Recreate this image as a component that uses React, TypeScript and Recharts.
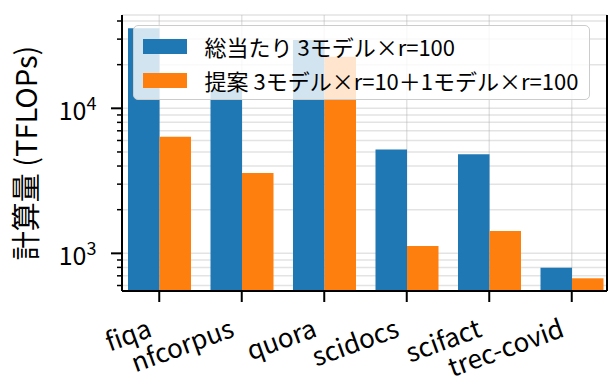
import { BarChart, Bar, XAxis, YAxis, CartesianGrid } from "recharts";

const categories = ["fiqa", "nfcorpus", "quora", "scidocs", "scifact", "trec-covid"];
const seriesNames = ["総当たり 3モデル×r=100", "提案 3モデル×r=10＋1モデル×r=100"];
const bruteForce = [35600, 13400, 29600, 5210, 4820, 796];
const proposed = [6370, 3580, 22700, 1122, 1426, 673];
const yTicks = [
  600, 700, 800, 900, 1000, 2000, 3000, 4000, 5000, 6000, 7000, 8000, 9000,
  10000, 20000, 30000, 40000,
];
const yMajorTicks = [1000, 10000];
const yDomain = [550, 44000];
const yLabel = "計算量 (TFLOPs)";

const colors = ["#1f77b4", "#ff7f0e"];
const font = "'Noto Sans CJK JP', sans-serif";

const chartData = categories.map((name, i) => ({
  name,
  bruteForce: bruteForce[i],
  proposed: proposed[i],
}));

function YTick({ x, y, payload }: any) {
  const v = payload.value;
  const major = yMajorTicks.includes(v);
  const exp = Math.round(Math.log10(v));
  return (
    <g>
      <line x1={x - (major ? 11 : 5)} x2={x} y1={y} y2={y} stroke="#000" strokeWidth={major ? 2 : 1.5} />
      {major && (
        <>
          <text x={x - 35.5} y={y + 11.5} textAnchor="end" fontSize={25} fontFamily={font} fill="#000">
            10
          </text>
          <text x={x - 35.5} y={y + 2} textAnchor="start" fontSize={18} fontFamily={font} fill="#000">
            {exp}
          </text>
        </>
      )}
    </g>
  );
}

function XTick({ x, y, payload }: any) {
  const px = x - 6;
  const py = y + 45;
  return (
    <g>
      <line x1={x} x2={x} y1={y} y2={y + 11} stroke="#000" strokeWidth={2} />
      <text
        x={px}
        y={py}
        textAnchor="end"
        fontSize={26}
        fontFamily={font}
        fill="#000"
        transform={`rotate(-20, ${px}, ${py})`}
      >
        {payload.value}
      </text>
    </g>
  );
}

export default function App() {
  return (
    <div style={{ position: "absolute", left: 0, top: 0, width: 608, height: 379, background: "#fff" }}>
      <BarChart
        width={608}
        height={379}
        data={chartData}
        margin={{ top: 15, right: 0, bottom: 0, left: 0 }}
        barGap={0}
        barSize={31.5}
      >
        <XAxis
          xAxisId="bottom"
          dataKey="name"
          height={88}
          padding={{ left: -4, right: -6 }}
          tickSize={0}
          tickMargin={0}
          tickLine={false}
          axisLine={{ stroke: "#000", strokeWidth: 2 }}
          tick={<XTick />}
          interval={0}
        />
        <XAxis
          xAxisId="top"
          orientation="top"
          dataKey="name"
          height={0}
          tick={false}
          tickLine={false}
          axisLine={{ stroke: "#000", strokeWidth: 2 }}
        />
        <YAxis
          yAxisId="left"
          scale="log"
          domain={yDomain}
          allowDataOverflow
          ticks={yTicks}
          interval={0}
          width={122}
          tickSize={0}
          tickMargin={0}
          tickLine={false}
          axisLine={{ stroke: "#000", strokeWidth: 2 }}
          tick={<YTick />}
        />
        <YAxis
          yAxisId="right"
          orientation="right"
          width={1}
          tick={false}
          tickLine={false}
          axisLine={{ stroke: "#000", strokeWidth: 2 }}
        />
        <Bar xAxisId="bottom" yAxisId="left" dataKey="bruteForce" fill={colors[0]} isAnimationActive={false} />
        <Bar xAxisId="bottom" yAxisId="left" dataKey="proposed" fill={colors[1]} isAnimationActive={false} />
        <CartesianGrid
          xAxisId="bottom"
          yAxisId="left"
          stroke="#b0b0b0"
          strokeOpacity={0.35}
          strokeWidth={1.5}
        />
        <text
          x={37}
          y={153}
          textAnchor="middle"
          fontSize={29}
          fontFamily={font}
          fill="#000"
          transform="rotate(-90, 37, 153)"
        >
          {yLabel}
        </text>
      </BarChart>
      <div
        style={{
          position: "absolute",
          left: 133,
          top: 25,
          width: 457,
          height: 75,
          boxSizing: "border-box",
          background: "rgba(255,255,255,0.8)",
          border: "1.5px solid #cccccc",
          borderRadius: 5,
          fontFamily: font,
          fontSize: 22,
          color: "#000",
        }}
      >
        {seriesNames.map((s, i) => (
          <div key={s} style={{ position: "absolute", left: 0, top: 5 + i * 34, height: 30, display: "flex", alignItems: "center" }}>
            <div style={{ marginLeft: 8.5, width: 44, height: 15, background: colors[i] }} />
            <span style={{ marginLeft: 18, whiteSpace: "nowrap", lineHeight: "30px" }}>{s}</span>
          </div>
        ))}
      </div>
    </div>
  );
}
